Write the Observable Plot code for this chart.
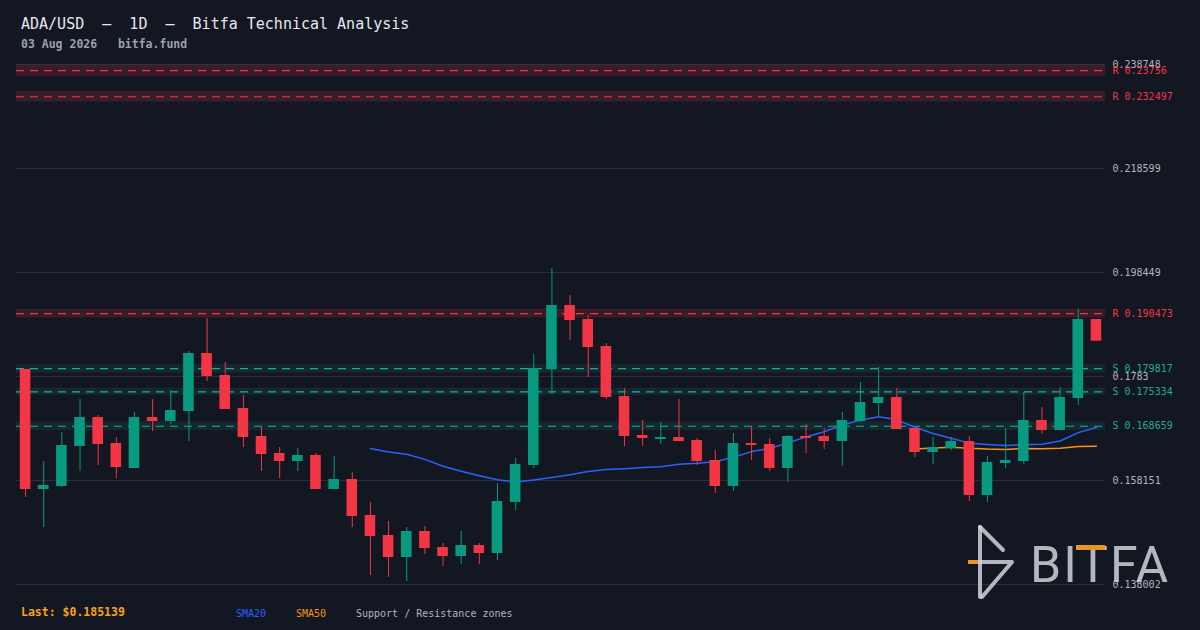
<!DOCTYPE html>
<html>
<head>
<meta charset="utf-8">
<script src="https://cdn.jsdelivr.net/npm/d3@7"></script>
<script src="https://cdn.jsdelivr.net/npm/@observablehq/plot@0.6"></script>
<style>
  html, body { margin: 0; padding: 0; background: #131722; }
  #wrap { position: relative; width: 1200px; height: 630px; background: #131722; overflow: hidden; font-family: "DejaVu Sans Mono", monospace; }
  #chart { position: absolute; left: 0; top: 0; }
  .t { position: absolute; white-space: pre; line-height: 1; }
  #title { left: 21px; top: 17px; font-size: 15px; color: #e6e8ee; }
  #sub { left: 21px; top: 39px; font-size: 11.5px; font-weight: bold; color: #9aa0ad; }
  #last { left: 21px; top: 607px; font-size: 11.5px; font-weight: bold; color: #f7a21b; }
  .lg { top: 609px; font-size: 10px; }
  #wm { position: absolute; left: 0; top: 0; pointer-events: none; }
</style>
</head>
<body>
<div id="wrap">
  <div id="chart"></div>
  <div class="t" id="title">ADA/USD  –  1D  –  Bitfa Technical Analysis</div>
  <div class="t" id="sub">03 Aug 2026   bitfa.fund</div>
  <div class="t" id="last">Last: $0.185139</div>
  <div class="t lg" style="left:236px;color:#2962ff">SMA20</div>
  <div class="t lg" style="left:296px;color:#f7931a">SMA50</div>
  <div class="t lg" style="left:356px;color:#b2b5be">Support / Resistance zones</div>
  <svg id="wm" width="1200" height="630">
    <g fill="none" stroke="#d1d4dc" stroke-opacity="0.85" stroke-width="4" stroke-linecap="round" stroke-linejoin="round">
      <path d="M980,527 L1003,550"/>
      <path d="M980,527 L980,597"/>
      <path d="M979,562 L1012,562 L982,597"/>
    </g>
    <path d="M968,562 L978,562" stroke="#e8961e" stroke-width="4"/>
    <text x="1030" y="582" font-family="Roboto" font-size="50" fill="#d1d4dc" fill-opacity="0.85" textLength="138" lengthAdjust="spacing">BITFA</text>
    <rect x="1076" y="545" width="29" height="5" fill="#e8961e"/>
  </svg>
</div>
<script>
// ---- data ----
const startDate = "2026-06-05";
const open  = [0.179657,0.156408,0.156989,0.164739,0.170357,0.165320,0.160477,0.170357,0.169582,0.171520,
               0.182757,0.178494,0.172101,0.166676,0.163383,0.161833,0.162995,0.156408,0.158346,0.151371,
               0.147496,0.143234,0.148271,0.145171,0.143428,0.145559,0.144009,0.153890,0.161058,0.179657,
               0.192056,0.189344,0.184113,0.174426,0.166870,0.166095,0.166483,0.165901,0.162027,0.156989,
               0.165320,0.165126,0.160477,0.166676,0.166676,0.165708,0.169582,0.173070,0.174232,0.168226,
               0.163577,0.164351,0.165708,0.155246,0.161445,0.161833,0.169776,0.167839,0.174038,0.189344];
const high  = [0.179657,0.161833,0.167451,0.173845,0.170745,0.166483,0.171326,0.173845,0.175588,0.183144,
               0.189538,0.181013,0.174620,0.168420,0.164545,0.164351,0.163383,0.162802,0.159702,0.153890,
               0.150208,0.149046,0.149240,0.145946,0.148271,0.145946,0.157571,0.162414,0.182563,0.199225,
               0.193994,0.190119,0.184694,0.175976,0.169776,0.169389,0.173845,0.166289,0.163964,0.167258,
               0.168614,0.166289,0.166870,0.169001,0.168226,0.171326,0.177138,0.180044,0.175976,0.168226,
               0.166483,0.166483,0.166676,0.162802,0.168226,0.175201,0.172295,0.176170,0.191281,0.189344];
const low   = [0.154858,0.149046,0.156796,0.159895,0.161058,0.158539,0.160477,0.167645,0.169001,0.165708,
               0.177332,0.171907,0.164545,0.159895,0.158539,0.159895,0.156408,0.156408,0.149046,0.139746,
               0.139359,0.138584,0.143815,0.141490,0.141878,0.141878,0.142653,0.152340,0.160477,0.174813,
               0.185275,0.178107,0.173845,0.164739,0.164739,0.165126,0.165708,0.161058,0.155633,0.156021,
               0.162027,0.159895,0.157764,0.163383,0.164158,0.160864,0.169389,0.170551,0.168033,0.162608,
               0.161252,0.163964,0.154083,0.153890,0.160477,0.161252,0.167064,0.167839,0.172682,0.185139];
const close = [0.156408,0.157183,0.164933,0.170357,0.165126,0.160670,0.170357,0.169582,0.171714,0.182757,
               0.178301,0.171907,0.166483,0.163189,0.161833,0.162995,0.156408,0.158346,0.151177,0.147302,
               0.143234,0.148271,0.144977,0.143428,0.145559,0.144009,0.154083,0.161252,0.179851,0.192056,
               0.189150,0.183919,0.174232,0.166676,0.166289,0.166483,0.165708,0.161833,0.156989,0.165320,
               0.164933,0.160477,0.166676,0.166289,0.165708,0.169776,0.173264,0.174232,0.168033,0.163577,
               0.164545,0.165708,0.155246,0.161639,0.162027,0.169776,0.167839,0.174232,0.189344,0.185139];

const yTicks = [0.138002, 0.158151, 0.1783, 0.198449, 0.218599, 0.238748];

const zoneType  = ["R", "R", "R", "S", "S", "S"];
const zoneLevel = [0.23756, 0.232497, 0.190473, 0.179817, 0.175334, 0.168659];
const zoneHalf  = [0.00112, 0.00103, 0.00084, 0.00084, 0.00068, 0.00084];

// ---- build tables ----
const t0 = new Date(startDate + "T00:00:00Z");
const candles = close.map((c, i) => ({
  date: d3.utcDay.offset(t0, i),
  open: open[i], high: high[i], low: low[i], close: c,
  up: c >= open[i]
}));
const zones = zoneLevel.map((lv, i) => ({
  type: zoneType[i], level: lv, lo: lv - zoneHalf[i], hi: lv + zoneHalf[i]
}));

const GREEN = "#089981", RED = "#f23645";
const TEAL = "#22ab94";
const first = candles[0].date, last = candles[candles.length - 1].date;
const font = "DejaVu Sans Mono, monospace";

const chart = Plot.plot({
  width: 1200,
  height: 630,
  marginTop: 64,
  marginBottom: 46,
  marginLeft: 16,
  marginRight: 95,
  style: { background: "transparent", fontFamily: font, color: "#b2b5be" },
  x: { type: "utc", domain: [d3.utcHour.offset(first, -12), d3.utcHour.offset(last, 12)], axis: null },
  y: { domain: [yTicks[0], yTicks[yTicks.length - 1]], axis: null },
  marks: [
    Plot.gridY(yTicks, { stroke: "#2a2e39", strokeOpacity: 1, strokeWidth: 1 }),
    Plot.rectY(zones, { y1: "lo", y2: "hi", fill: d => d.type === "R" ? RED : TEAL, fillOpacity: d => d.type === "R" ? 0.17 : 0.12 }),
    Plot.ruleY(zones, { y: "level", stroke: d => d.type === "R" ? RED : TEAL, strokeWidth: 1.2, strokeDasharray: "8,6" }),
    Plot.axisY(yTicks, { anchor: "right", tickSize: 0, tickPadding: 7, label: null,
      tickFormat: d => String(+d.toFixed(6)), fontSize: 10, fill: "#b2b5be" }),
    Plot.text(zones, { y: "level", text: d => `${d.type} ${d.level}`, frameAnchor: "right",
      textAnchor: "start", dx: 7, fontSize: 10, fill: d => d.type === "R" ? RED : TEAL }),
    Plot.lineY(candles, Plot.windowY({ k: 50, anchor: "end", strict: true, reduce: "mean" },
      { x: "date", y: "close", stroke: "#f7931a", strokeWidth: 1.5 })),
    Plot.lineY(candles, Plot.windowY({ k: 20, anchor: "end", strict: true, reduce: "mean" },
      { x: "date", y: "close", stroke: "#2962ff", strokeWidth: 1.5 })),
    Plot.ruleX(candles, { x: "date", y1: "low", y2: "high", stroke: d => d.up ? GREEN : RED, strokeWidth: 1 }),
    Plot.rectY(candles, {
      x1: d => d3.utcHour.offset(d.date, -7),
      x2: d => d3.utcHour.offset(d.date, 7),
      y1: "open", y2: "close",
      fill: d => d.up ? GREEN : RED
    })
  ]
});
document.getElementById("chart").appendChild(chart);
</script>
</body>
</html>
